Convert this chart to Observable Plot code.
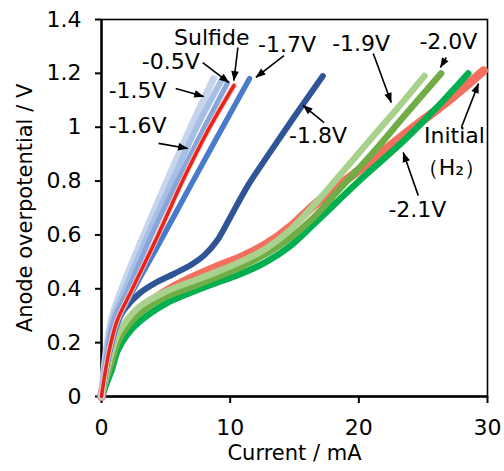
<!DOCTYPE html>
<html><head><meta charset="utf-8">
<script src="https://cdn.jsdelivr.net/npm/d3@7"></script>
<script src="https://cdn.jsdelivr.net/npm/@observablehq/plot@0.6"></script>
<style>body{margin:0;background:#fff}</style>
</head><body><div id="chart"></div>
<script>
// ---- axis ticks ----
const xTicks = [0, 10, 20, 30];
const yTicks = [0, 0.2, 0.4, 0.6, 0.8, 1, 1.2, 1.4];

// ---- curves: current (mA) and anode overpotential (V) ----
const I_m15 = [0, 0.15, 0.4, 0.8, 1.5, 3.3, 5.1, 6.95, 8.7];
const V_m15 = [0, 0.08, 0.18, 0.29, 0.39, 0.60, 0.80, 1.00, 1.18];
const I_m16 = [0, 0.18, 0.45, 0.9, 1.75, 3.6, 5.5, 7.4, 9.4];
const V_m16 = [0, 0.08, 0.18, 0.29, 0.39, 0.60, 0.80, 1.00, 1.18];
const I_m05 = [0, 0.2, 0.5, 1.0, 2.0, 3.9, 5.9, 8.0, 9.8];
const V_m05 = [0, 0.08, 0.18, 0.29, 0.39, 0.60, 0.80, 1.00, 1.165];
const I_sulf = [0, 0.22, 0.6, 1.2, 2.3, 4.4, 6.3, 8.3, 10.3];
const V_sulf = [0, 0.07, 0.17, 0.28, 0.39, 0.60, 0.80, 0.99, 1.155];
const I_m17 = [0, 0.25, 0.7, 1.3, 2.3, 4.5, 7.0, 9.3, 11.5];
const V_m17 = [0, 0.08, 0.18, 0.28, 0.38, 0.57, 0.79, 0.99, 1.18];
const I_m18 = [0, 0.3, 0.7, 1.2, 1.8, 3.0, 4.3, 5.6, 7.0, 8.0, 9.0, 10.0, 11.4, 13.0, 15.0, 17.2];
const V_m18 = [0, 0.09, 0.19, 0.27, 0.325, 0.385, 0.425, 0.455, 0.49, 0.525, 0.58, 0.665, 0.785, 0.90, 1.04, 1.19];
const I_init = [0, 0.5, 1.25, 2, 3, 5, 6.9, 8.8, 10.8, 12.8, 14.7, 16.5, 20, 24, 27, 29.7];
const V_init = [0, 0.10, 0.20, 0.26, 0.32, 0.39, 0.438, 0.478, 0.516, 0.565, 0.63, 0.71, 0.84, 0.99, 1.10, 1.21];
const I_m21 = [0, 0.4, 0.8, 1.25, 2, 3, 5, 6.9, 8.8, 10.8, 12.8, 14.7, 16.5, 20, 23.5, 26, 28.5];
const V_m21 = [0, 0.05, 0.10, 0.17, 0.23, 0.28, 0.345, 0.385, 0.42, 0.455, 0.50, 0.56, 0.64, 0.80, 0.95, 1.07, 1.20];
const I_m20 = [0, 0.35, 0.8, 1.25, 2, 3, 5, 6.9, 8.8, 10.8, 12.8, 14.7, 16.5, 18.5, 21, 23.5, 26.4];
const V_m20 = [0, 0.06, 0.13, 0.20, 0.26, 0.31, 0.37, 0.405, 0.44, 0.48, 0.53, 0.59, 0.665, 0.77, 0.90, 1.04, 1.20];
const I_m19 = [0, 0.3, 0.7, 1.25, 2, 3, 5, 6.9, 8.8, 10.8, 12.8, 14.7, 16.5, 18.5, 21, 23, 25.1];
const V_m19 = [0, 0.07, 0.15, 0.23, 0.285, 0.335, 0.39, 0.425, 0.46, 0.50, 0.55, 0.62, 0.71, 0.82, 0.96, 1.07, 1.19];

// ---- annotations ----
const labelText = ["Sulfide", "-0.5V", "-1.5V", "-1.6V", "-1.7V", "-1.9V", "-2.0V", "-1.8V", "Initial", "（H₂）", "-2.1V"];
const labelX    = [8.57, 5.38, 2.81, 2.81, 14.42, 20.18, 26.96, 16.83, 27.43, 27.2, 24.55];
const labelY    = [1.333, 1.244, 1.136, 1.003, 1.307, 1.311, 1.315, 0.969, 0.969, 0.850, 0.694];
const arrowX1 = [10.6, 7.87, 5.77, 4.44, 14.18, 21.12, 26.8, 17.3, 27.97, 24.62];
const arrowY1 = [1.296, 1.240, 1.144, 0.940, 1.266, 1.274, 1.259, 1.017, 0.999, 0.746];
const arrowX2 = [10.29, 9.90, 7.95, 6.70, 12.0, 22.52, 26.34, 15.66, 29.3, 23.45];
const arrowY2 = [1.173, 1.166, 1.114, 0.921, 1.185, 1.092, 1.222, 1.081, 1.162, 0.906];

const curves = [
  {I: I_init, V: V_init, color: "#f3705e", w: 9},
  {I: I_m21, V: V_m21, color: "#00b050", w: 6.5},
  {I: I_m20, V: V_m20, color: "#70ad47", w: 6.5},
  {I: I_m19, V: V_m19, color: "#a9d18e", w: 6.5},
  {I: I_m18, V: V_m18, color: "#2f5597", w: 6},
  {I: I_m17, V: V_m17, color: "#4a7bcb", w: 5.5},
  {I: I_m15, V: V_m15, color: "#c5d5ec", w: 7},
  {I: I_m16, V: V_m16, color: "#a7bfe4", w: 6},
  {I: I_m05, V: V_m05, color: "#86a5da", w: 5},
  {I: I_sulf, V: V_sulf, color: "#f6c6c0", w: 5.5},
  {I: I_sulf, V: V_sulf, color: "#e8231b", w: 3.5}
];

const font = "DejaVu Sans";
const labels = labelText.map((t, i) => ({t, x: labelX[i], y: labelY[i]}));
const arrows = arrowX1.map((x1, i) => ({x1, y1: arrowY1[i], x2: arrowX2[i], y2: arrowY2[i]}));

const svg = Plot.plot({
  width: 504, height: 471,
  marginLeft: 101, marginRight: 17, marginTop: 19, marginBottom: 75,
  x: {domain: [0, 30]},
  y: {domain: [0, 1.4]},
  style: {fontFamily: font, fontSize: "22px", color: "black", background: "white"},
  marks: [
    Plot.frame({stroke: "black", strokeWidth: 1.6}),
    Plot.ruleX([0], {stroke: "black", strokeWidth: 2.4}),
    Plot.ruleY([0], {stroke: "black", strokeWidth: 2.4}),
    Plot.axisX({ticks: xTicks, tickSize: 7, tickPadding: 16, fontSize: 22, label: null, strokeWidth: 2, tickFormat: d => String(d)}),
    Plot.axisY({ticks: yTicks, tickSize: 6, tickPadding: 14, fontSize: 22, label: null, strokeWidth: 2, tickFormat: d => String(d)}),
    Plot.text(["Current / mA"], {frameAnchor: "bottom", dy: 63, text: d => d, fontSize: 21}),
    Plot.text(["Anode overpotential / V"], {frameAnchor: "left", textAnchor: "middle", dx: -76, rotate: -90, text: d => d, fontSize: 21}),
    ...curves.map(c => Plot.line(c.I.map((x, i) => ({x, y: c.V[i]})), {
      x: "x", y: "y", stroke: c.color, strokeWidth: c.w, curve: "catmull-rom",
      strokeLinecap: "round", strokeLinejoin: "round"
    })),
    Plot.link(arrows, {x1: "x1", y1: "y1", x2: "x2", y2: "y2", stroke: "black", strokeWidth: 1.6, markerEnd: "arrow"}),
    Plot.text(labels, {x: "x", y: "y", text: "t", fontSize: 22, fill: "black"})
  ]
});

svg.querySelectorAll("marker").forEach(m => {
  m.setAttribute("viewBox", "-10 -5 11 10");
  m.setAttribute("markerWidth", "11");
  m.setAttribute("markerHeight", "10");
  m.setAttribute("markerUnits", "userSpaceOnUse");
  m.setAttribute("fill", "black");
  m.setAttribute("stroke", "none");
  const p = m.querySelector("path");
  if (p) p.setAttribute("d", "M-9.5,-3.8L0.5,0L-9.5,3.8Z");
});

document.getElementById("chart").appendChild(svg);
</script>
</body></html>
